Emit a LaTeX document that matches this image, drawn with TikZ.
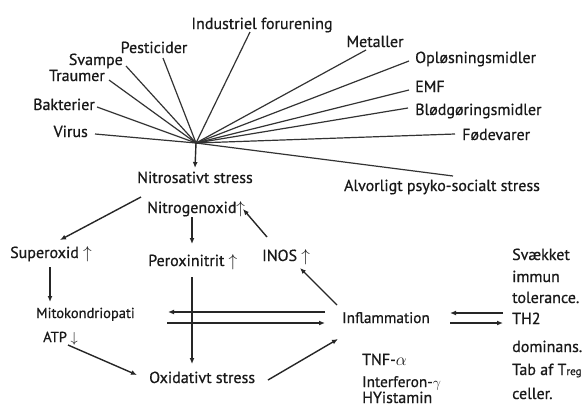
\documentclass[tikz,border=0pt]{standalone}
\usepackage{fontspec}
\setmainfont{PT Sans}[FakeBold=0.7]
\usetikzlibrary{arrows.meta}
\begin{document}
\begin{tikzpicture}[x=1pt,y=-1pt,
  lbl/.style={inner sep=0pt, font=\fontsize{16}{18}\selectfont, text=black!90},
  small/.style={font=\fontsize{14.5}{16}\selectfont},
  arr/.style={line width=1.4pt, draw=black!85, -{Latex[length=6pt,width=5pt]}},
  fan/.style={line width=1.2pt, draw=black!80}]
\useasboundingbox (0,0) rectangle (587,407);
\fill[white] (0,0) rectangle (587,407);
\coordinate (hub) at (196,143);
% top labels
\node[lbl,anchor=base] (ind) at (262,29) {Industriel forurening};
\node[lbl,anchor=base] (metal) at (375,47) {Metaller};
\node[lbl,anchor=base west] (oplos) at (415,63) {Opløsningsmidler};
\node[lbl,anchor=base west] (emf) at (415,92) {EMF};
\node[lbl,anchor=base west] (blod) at (415,115) {Blødgøringsmidler};
\node[lbl,anchor=base west] (fode) at (462,140) {Fødevarer};
\node[lbl,anchor=base] (alv) at (442,191) {Alvorligt psyko-socialt stress};
\node[lbl,anchor=base] (pest) at (154,53) {Pesticider};
\node[lbl,anchor=base east] (svampe) at (123,65) {Svampe};
\node[lbl,anchor=base east] (traumer) at (105,81) {Traumer};
\node[lbl,anchor=base east] (bakt) at (95,110) {Bakterier};
\node[lbl,anchor=base east] (virus) at (88,137) {Virus};
\node[lbl,anchor=base] (nitros) at (195,183) {Nitrosativt stress};
% fan
\foreach \n/\dx/\dy in {ind/-12/3, metal/-9/3, alv/11/-15, pest/9/5}
  \draw[fan] (hub) -- ([shift={(\dx,\dy)}]\n.base);
\foreach \n/\dx/\dy in {oplos/-6/-2, emf/-6/-2, blod/-7/-7, fode/-7/-6}
  \draw[fan] (hub) -- ([shift={(\dx,\dy)}]\n.base west);
\foreach \n/\dx/\dy in {svampe/3/1, traumer/4/-1, bakt/2/-3, virus/7/-3}
  \draw[fan] (hub) -- ([shift={(\dx,\dy)}]\n.base east);
\draw[arr] (hub) -- ([yshift=15pt]nitros.base);
% lower part
\node[lbl,anchor=base west] (nitro) at (147,213) {Nitrogenoxid$\uparrow$};
\node[lbl,anchor=base west] (super) at (10,258) {Superoxid $\uparrow$};
\node[lbl,anchor=base west] (perox) at (148,266) {Peroxinitrit $\uparrow$};
\node[lbl,anchor=base west] (inos) at (262,261) {INOS $\uparrow$};
\node[lbl,small,anchor=base west] (mito) at (36,318) {Mitokondriopati};
\node[lbl,small,anchor=base west] (atp) at (43,342) {ATP $\downarrow$};
\node[lbl,anchor=base west] (oxid) at (149,383) {Oxidativt stress};
\node[lbl,anchor=base west,font=\fontsize{15.3}{17}\selectfont] (infl) at (342,323) {Inflammation};
\node[lbl,anchor=base west] (tnf) at (362,365) {TNF-$\alpha$};
\node[lbl,anchor=base west,font=\fontsize{15.3}{17}\selectfont] (ifn) at (362,387) {Interferon-$\gamma$};
\node[lbl,anchor=base west] (hist) at (362,403) {HYistamin};
\node[lbl,anchor=base west] (r1) at (512,260) {Svækket};
\node[lbl,anchor=base west] (r2) at (512,282) {immun};
\node[lbl,anchor=base west] (r3) at (512,303) {tolerance.};
\node[lbl,anchor=base west] (th2) at (512,324) {TH2};
\node[lbl,anchor=base west] (r5) at (512,352) {dominans.};
\node[lbl,anchor=base west] (r6) at (512,375) {Tab af T{\fontsize{11}{12}\selectfont reg}};
\node[lbl,anchor=base west] (r7) at (512,399) {celler.};
% arrows
\draw[arr] ([shift={(-6,-16)}]nitro.base west) -- ([shift={(50,-18)}]super.base west);
\draw[arr] ([shift={(40,9)}]super.base west) -- ([shift={(14,-16)}]mito.base west);
\draw[arr] ([shift={(25,3)}]atp.base west) -- ([shift={(-12,-8)}]oxid.base west);
\draw[arr] ([shift={(45,4)}]nitro.base west) -- ([shift={(44,-22)}]perox.base west);
\draw[arr] ([shift={(44,11)}]perox.base west) -- ([shift={(43,-19)}]oxid.base west);
\draw[arr] ([shift={(5,-24)}]inos.base west) -- ([shift={(96,-4)}]nitro.base west);
\draw[arr] ([shift={(-5,-18)}]infl.base west) -- ([shift={(38,7)}]inos.base west);
\draw[arr] ([shift={(-17,-11)}]infl.base west) -- ([shift={(132,-6)}]mito.base west);
\draw[arr] ([shift={(131,5)}]mito.base west) -- ([shift={(-17,0)}]infl.base west);
\draw[arr] ([shift={(119,-3)}]oxid.base west) -- ([shift={(-4,16)}]infl.base west);
\draw[arr] ([shift={(-9,-11)}]th2.base west) -- ([shift={(108,-10)}]infl.base west);
\draw[arr] ([shift={(108,0)}]infl.base west) -- ([shift={(-9,-1)}]th2.base west);
\end{tikzpicture}
\end{document}
